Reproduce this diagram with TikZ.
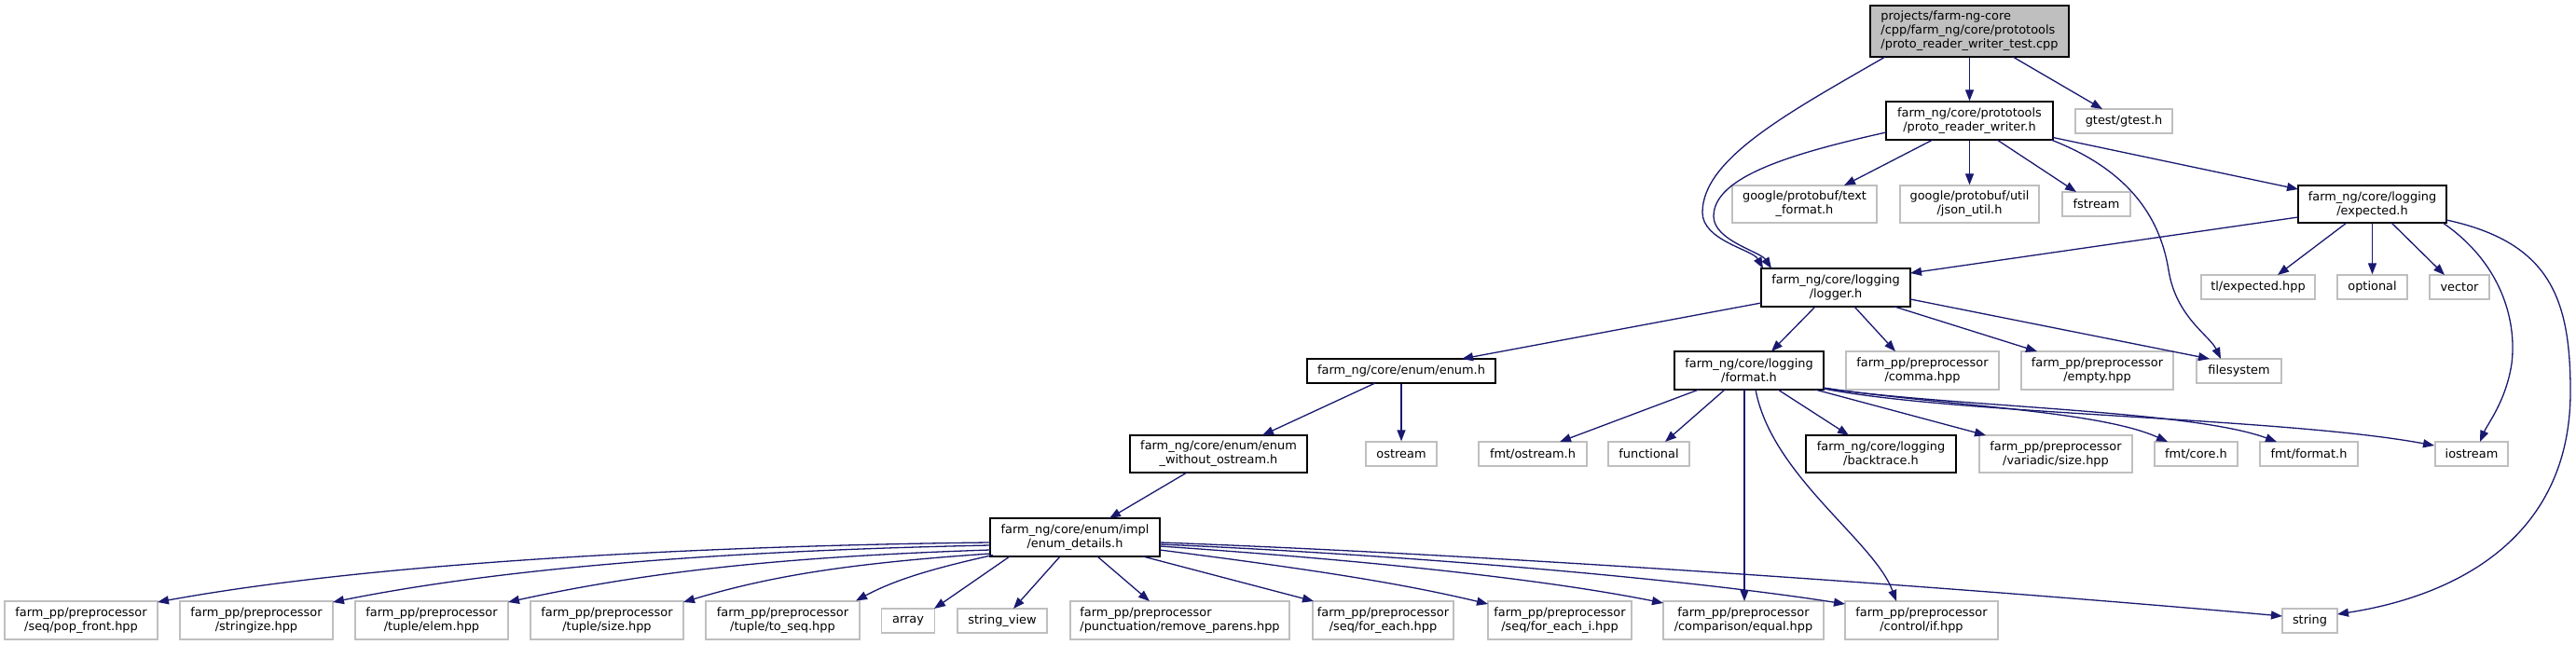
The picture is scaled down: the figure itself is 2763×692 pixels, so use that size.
\documentclass[tikz,border=0pt]{standalone}
\usepackage{fontspec}
\setmainfont{DejaVu Sans}
\usetikzlibrary{arrows.meta,calc}
\definecolor{edgec}{HTML}{191970}
\definecolor{extc}{HTML}{BFBFBF}
\tikzset{
  nd/.style={draw, line width=1.3pt, inner sep=0pt, align=center, fill=white,
    font=\fontsize{12.9pt}{15pt}\selectfont},
  doc/.style={nd, draw=black},
  ext/.style={nd, draw=extc},
  rootnode/.style={nd, draw=black, fill=extc, align=left},
  edge/.style={draw=edgec, line width=1.3pt, -{Triangle[length=12pt,width=9pt]}},
}
\begin{document}
\begin{tikzpicture}[x=1pt,y=-1pt]
\fill[white] (0,0) rectangle (2763,692);
\useasboundingbox (0,0) rectangle (2763,692);
% rank 0
\node[rootnode, minimum width=213, minimum height=55] (root) at (2112.5,33.5)
  {projects/farm-ng-core\\/cpp/farm\_ng/core/prototools\\/proto\_reader\_writer\_test.cpp};
% rank 1
\node[doc, minimum width=179, minimum height=41] (prw) at (2112.5,129.5) {farm\_ng/core/prototools\\/proto\_reader\_writer.h};
\node[ext, minimum width=104, minimum height=26] (gtest) at (2278,130) {gtest/gtest.h};
% rank 2
\node[ext, minimum width=155, minimum height=40] (tfmt) at (1935.5,219) {google/protobuf/text\\\_format.h};
\node[ext, minimum width=149, minimum height=40] (json) at (2112.5,219) {google/protobuf/util\\/json\_util.h};
\node[ext, minimum width=73, minimum height=26] (fstream) at (2248.5,219) {fstream};
\node[doc, minimum width=159, minimum height=40] (expected) at (2544.5,219) {farm\_ng/core/logging\\/expected.h};
% rank 3
\node[doc, minimum width=160, minimum height=41] (logger) at (1969,308.5) {farm\_ng/core/logging\\/logger.h};
\node[ext, minimum width=122, minimum height=26] (tlexp) at (2422,308) {tl/expected.hpp};
\node[ext, minimum width=75, minimum height=26] (optional) at (2544.5,308) {optional};
\node[ext, minimum width=64, minimum height=26] (vector) at (2638,308) {vector};
% rank 4
\node[doc, minimum width=202, minimum height=26] (enumh) at (1503,398) {farm\_ng/core/enum/enum.h};
\node[doc, minimum width=160, minimum height=41] (format) at (1876,397.5) {farm\_ng/core/logging\\/format.h};
\node[ext, minimum width=164, minimum height=41] (comma) at (2062,397.5) {farm\_pp/preprocessor\\/comma.hpp};
\node[ext, minimum width=163, minimum height=41] (empty) at (2249.5,397.5) {farm\_pp/preprocessor\\/empty.hpp};
\node[ext, minimum width=91, minimum height=26] (filesystem) at (2401.5,398) {filesystem};
% rank 5
\node[doc, minimum width=190, minimum height=40] (ewo) at (1307,487) {farm\_ng/core/enum/enum\\\_without\_ostream.h};
\node[ext, minimum width=76, minimum height=26] (ostream) at (1503,487) {ostream};
\node[ext, minimum width=116, minimum height=26] (fmtostream) at (1644,487) {fmt/ostream.h};
\node[ext, minimum width=87, minimum height=26] (functional) at (1768.5,487) {functional};
\node[doc, minimum width=161, minimum height=40] (backtrace) at (2017.5,487) {farm\_ng/core/logging\\/backtrace.h};
\node[ext, minimum width=164, minimum height=40] (variadic) at (2205,487) {farm\_pp/preprocessor\\/variadic/size.hpp};
\node[ext, minimum width=89, minimum height=26] (fmtcore) at (2355.5,487) {fmt/core.h};
\node[ext, minimum width=105, minimum height=26] (fmtformat) at (2476.5,487) {fmt/format.h};
\node[ext, minimum width=78, minimum height=26] (iostream) at (2651,487) {iostream};
% rank 6
\node[doc, minimum width=182, minimum height=41] (details) at (1153,576.5) {farm\_ng/core/enum/impl\\/enum\_details.h};
% rank 7
\node[ext, minimum width=164, minimum height=41] (popfront) at (87,665.5) {farm\_pp/preprocessor\\/seq/pop\_front.hpp};
\node[ext, minimum width=164, minimum height=41] (stringize) at (275,665.5) {farm\_pp/preprocessor\\/stringize.hpp};
\node[ext, minimum width=164, minimum height=41] (elem) at (463,665.5) {farm\_pp/preprocessor\\/tuple/elem.hpp};
\node[ext, minimum width=164, minimum height=41] (tsize) at (651,665.5) {farm\_pp/preprocessor\\/tuple/size.hpp};
\node[ext, minimum width=165, minimum height=41] (toseq) at (839.5,665.5) {farm\_pp/preprocessor\\/tuple/to\_seq.hpp};
\node[ext, minimum width=57, minimum height=26] (array) at (974,666) {array};
\node[ext, minimum width=96, minimum height=26] (stringview) at (1075,666) {string\_view};
\node[ext, minimum width=235, minimum height=41, align=left] (removeparens) at (1265.5,665.5) {farm\_pp/preprocessor\\/punctuation/remove\_parens.hpp};
\node[ext, minimum width=151, minimum height=41] (foreach) at (1483.5,665.5) {farm\_pp/preprocessor\\/seq/for\_each.hpp};
\node[ext, minimum width=154, minimum height=41] (foreachi) at (1673,665.5) {farm\_pp/preprocessor\\/seq/for\_each\_i.hpp};
\node[ext, minimum width=172, minimum height=41] (equal) at (1870,665.5) {farm\_pp/preprocessor\\/comparison/equal.hpp};
\node[ext, minimum width=164, minimum height=41] (controlif) at (2061,665.5) {farm\_pp/preprocessor\\/control/if.hpp};
\node[ext, minimum width=59, minimum height=26] (string) at (2477.5,666) {string};

% ---- edges ----
\draw[edge] (root.south) -- (prw.north);
\draw[edge] ($(root)+(46.5,27.5)$) -- ($(gtest)+(-23,-13)$);
\draw[edge] ($(root)+(-90.5,27.5)$) .. controls (1920,120) and (1826,170) .. (1826,228)
  .. controls (1826,258) and (1880,268) .. ($(logger)+(-78,-20.5)$);
\draw[edge] ($(prw)+(-89.5,12.5)$) .. controls (1920,165) and (1838,190) .. (1838,232)
  .. controls (1838,258) and (1888,270) .. ($(logger)+(-69,-20.5)$);
\draw[edge] ($(prw)+(-39.5,20.5)$) -- ($(tfmt)+(42.5,-20)$);
\draw[edge] (prw.south) -- (json.north);
\draw[edge] ($(prw)+(29.5,20.5)$) -- ($(fstream)+(-21.5,-13)$);
\draw[edge] ($(prw)+(87.5,20.5)$) .. controls (2290,185) and (2318,240) .. (2326,290)
  .. controls (2334,340) and (2370,360) .. ($(filesystem)+(-19.5,-13)$);
\draw[edge] ($(prw)+(89.5,18)$) -- ($(expected)+(-79.5,-16)$);

\draw[edge] ($(expected)+(-79.5,14)$) -- ($(logger)+(80,-15.5)$);
\draw[edge] ($(expected)+(-27.5,20)$) -- ($(tlexp)+(21,-13)$);
\draw[edge] (expected.south) -- (optional.north);
\draw[edge] ($(expected)+(20.5,20)$) -- ($(vector)+(-16,-13)$);
\draw[edge] ($(expected)+(75.5,20)$) .. controls (2680,280) and (2700,340) .. (2694,390)
  .. controls (2688,430) and (2668,455) .. ($(iostream)+(9,-13)$);
\draw[edge] ($(expected)+(79.5,17)$) .. controls (2735,260) and (2757,320) .. (2757,420)
  .. controls (2757,580) and (2630,640) .. ($(string)+(29.5,-7)$);

\draw[edge] ($(logger)+(-80,16.5)$) -- ($(enumh)+(65,-13)$);
\draw[edge] ($(logger)+(-22,20.5)$) -- ($(format)+(24,-20.5)$);
\draw[edge] ($(logger)+(20,20.5)$) -- ($(comma)+(-29,-20.5)$);
\draw[edge] ($(logger)+(63,20.5)$) -- ($(empty)+(-64.5,-20.5)$);
\draw[edge] ($(logger)+(80,12.5)$) -- ($(filesystem)+(-31.5,-13)$);

\draw[edge] ($(enumh)+(-28,13)$) -- ($(ewo)+(47,-20)$);
\draw[edge] (enumh.south) -- (ostream.north);
\draw[edge] ($(ewo)+(-34,20)$) -- ($(details)+(37,-20.5)$);

\draw[edge] ($(format)+(-54,20.5)$) -- ($(fmtostream)+(29,-13)$);
\draw[edge] ($(format)+(-26,20.5)$) -- ($(functional)+(17.5,-13)$);
\draw[edge] ($(format)+(-5,20.5)$) -- ($(equal)+(1,-20.5)$);
\draw[edge] ($(format)+(7,20.5)$) .. controls (1900,510) and (2010,580) .. ($(controlif)+(-27,-20.5)$);
\draw[edge] ($(format)+(31,20.5)$) -- ($(backtrace)+(-34.5,-20)$);
\draw[edge] ($(format)+(71,20.5)$) -- ($(variadic)+(-75,-20)$);
\draw[edge] ($(format)+(80,18.5)$) .. controls (2080,435) and (2250,440) .. ($(fmtcore)+(-30.5,-13)$);
\draw[edge] ($(format)+(80,19)$) .. controls (2100,437) and (2350,440) .. ($(fmtformat)+(-34.5,-13)$);
\draw[edge] ($(format)+(80,19.5)$) .. controls (2100,445) and (2450,448) .. ($(iostream)+(-40,-9)$);

\draw[edge] ($(details)+(-91,5.5)$) .. controls (800,585) and (420,600) .. ($(popfront)+(82,-19.5)$);
\draw[edge] ($(details)+(-91,8.5)$) .. controls (820,590) and (560,605) .. ($(stringize)+(82,-19.5)$);
\draw[edge] ($(details)+(-91,13.5)$) .. controls (850,597) and (700,612) .. ($(elem)+(82,-19.5)$);
\draw[edge] ($(details)+(-91,17.5)$) .. controls (900,605) and (820,620) .. ($(tsize)+(82,-19.5)$);
\draw[edge] ($(details)+(-88,19)$) .. controls (1000,610) and (960,622) .. ($(toseq)+(78.5,-21)$);
\draw[edge] ($(details)+(-70,20.5)$) -- ($(array)+(28,-13)$);
\draw[edge] ($(details)+(-16,20.5)$) -- ($(stringview)+(12,-13)$);
\draw[edge] ($(details)+(24,20.5)$) -- ($(removeparens)+(-32.5,-20.5)$);
\draw[edge] ($(details)+(73,20.5)$) -- ($(foreach)+(-74.5,-20.5)$);
\draw[edge] ($(details)+(91,13.5)$) .. controls (1400,610) and (1500,625) .. ($(foreachi)+(-77,-17.5)$);
\draw[edge] ($(details)+(91,9.5)$) .. controls (1450,600) and (1650,620) .. ($(equal)+(-86,-18.5)$);
\draw[edge] ($(details)+(91,7.5)$) .. controls (1500,595) and (1800,620) .. ($(controlif)+(-82,-17.5)$);
\draw[edge] ($(details)+(91,5.5)$) .. controls (1600,595) and (2100,630) .. ($(string)+(-29.5,-5)$);
\end{tikzpicture}
\end{document}
